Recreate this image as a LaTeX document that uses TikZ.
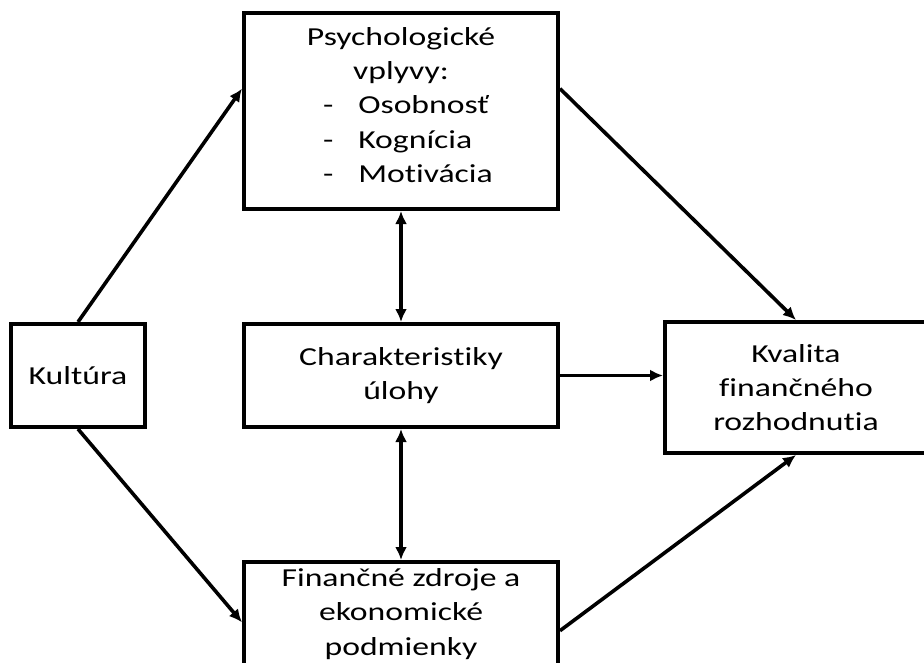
\documentclass[tikz,border=0pt]{standalone}
\usepackage{fontspec}
\setmainfont{Carlito}[Ligatures={NoCommon}, FakeStretch=1.3]
\usepackage{tikz}
\usetikzlibrary{arrows.meta,arrows}

\begin{document}
\begin{tikzpicture}[x=1bp,y=-1bp,
   box/.style={draw, line width=4bp, align=center, inner sep=0pt, font=\fontsize{26}{34.5}\selectfont},
   link/.style={line width=3.6bp, -{Latex[length=13bp,width=12bp]}},
   twoway/.style={line width=3.6bp, {Latex[length=13bp,width=12bp]}-{Latex[length=13bp,width=12bp]}}]
\useasboundingbox (0,0) rectangle (924,663);
\clip (0,0) rectangle (924,663);
% Boxes
\node[box, minimum width=134bp, minimum height=103bp] (kultura) at (78, 375.5) {Kultúra};
\node[box, minimum width=314bp, minimum height=196bp, align=left, text width=300bp] (psych) at (401, 111)
   {\makebox[300bp][c]{Psychologické}\\
    \makebox[300bp][c]{vplyvy:}\\
    \hspace*{72bp}-\hspace*{25bp}Osobnosť\\
    \hspace*{72bp}-\hspace*{25bp}Kognícia\\
    \hspace*{72bp}-\hspace*{25bp}Motivácia\\[-22bp]
    \mbox{}};
\node[box, minimum width=314bp, minimum height=103bp] (uloha) at (401, 375.5) {Charakteristiky\\úlohy};
\node[box, minimum width=314bp, minimum height=104bp] (zdroje) at (401, 614) {Finančné zdroje a\\ekonomické\\podmienky};
\node[box, minimum width=262bp, minimum height=131bp] (kvalita) at (796, 387.5) {Kvalita\\finančného\\rozhodnutia};
% Influence from culture
\draw[link] (kultura.north) -- (psych.172);
\draw[link] (kultura.south) -- (zdroje.183);
% Influence on decision quality
\draw[link] (psych.8) -- (kvalita.north);
\draw[link] (uloha.east) -- (uloha.east -| kvalita.west);
\draw[link] (zdroje.354) -- (kvalita.south);
% Mutual links
\draw[twoway] (psych.south) -- (uloha.north);
\draw[twoway] (uloha.south) -- (zdroje.north);
\end{tikzpicture}
\end{document}
